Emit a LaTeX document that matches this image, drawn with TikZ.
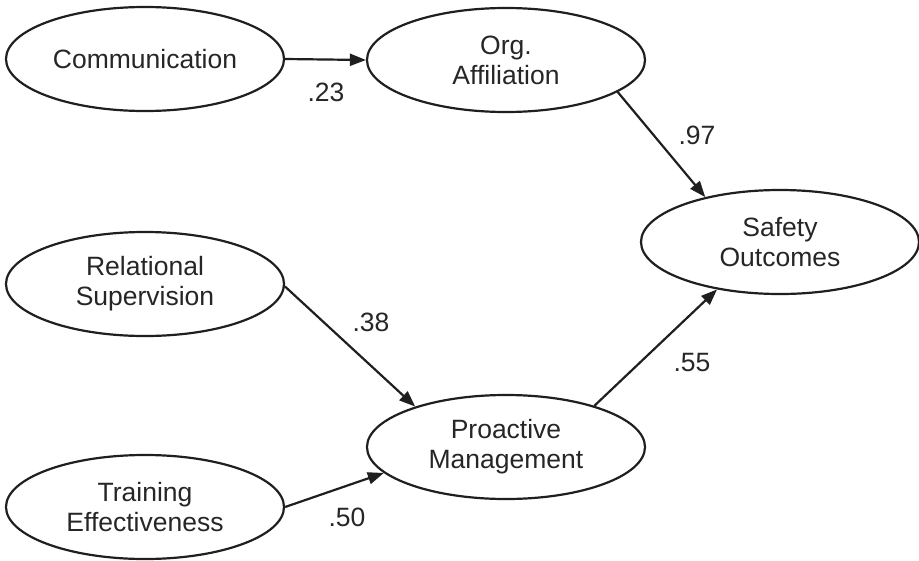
\documentclass[tikz,border=0pt]{standalone}
\usepackage{fontspec}
\setmainfont{Liberation Sans}
\usetikzlibrary{shapes.geometric,arrows.meta}
\begin{document}
\begin{tikzpicture}[x=1pt,y=-1pt,
  latent/.style={ellipse,draw=black!88,line width=2.2pt,minimum width=278pt,minimum height=104pt,
    inner sep=0pt,align=center,font=\fontsize{26.5}{30}\selectfont,text=black!85},
  path/.style={line width=2.2pt,draw=black!88,-{Triangle[length=16pt,width=12pt]}},
  coef/.style={font=\fontsize{26.5}{30}\selectfont,text=black!85,inner sep=0pt}]
\useasboundingbox (0,0) rectangle (919,560);
% latent constructs
\node[latent] (comm) at (145,59) {Communication};
\node[latent] (org)  at (506,60) {Org.\\Affiliation};
\node[latent] (safe) at (780,242) {Safety\\Outcomes};
\node[latent] (rel)  at (145,284) {Relational\\Supervision};
\node[latent] (pro)  at (506,447) {Proactive\\Management};
\node[latent] (train) at (145,507) {Training\\Effectiveness};
% structural paths
\draw[path] (comm.0) -- (org.180);
\draw[path] (org.-16.6) -- (safe.149);
\draw[path] (rel.-1.6) -- (pro.156.3);
\draw[path] (train.0) -- (pro.192.3);
\draw[path] (pro.25.8) -- (safe.217.6);
% path coefficients
\node[coef] (c1) at (326,92) {.23};
\node[coef] (c2) at (697,135) {.97};
\node[coef] (c3) at (371,322) {.38};
\node[coef] (c4) at (347,517) {.50};
\node[coef] (c5) at (692,363) {.55};
\end{tikzpicture}
\end{document}
